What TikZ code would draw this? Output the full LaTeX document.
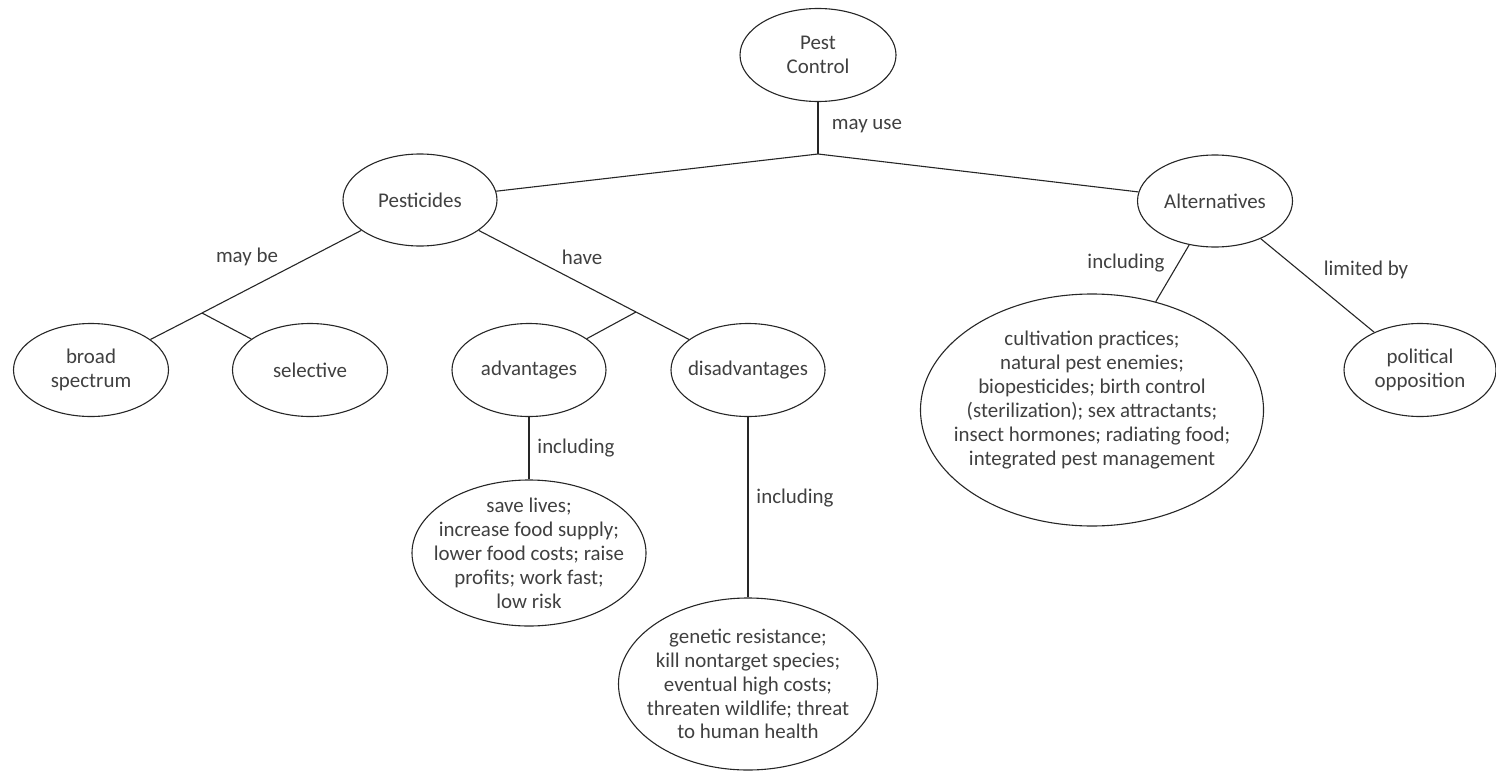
\documentclass[tikz,border=0pt]{standalone}
\usepackage{fontspec}
\setmainfont{Carlito}
\usetikzlibrary{shapes.geometric}
\begin{document}
\begin{tikzpicture}[x=1bp,y=-1bp,
  every node/.style={text=black!75, font=\fontsize{21}{24}\selectfont},
  oval/.style={draw=black!85, line width=1.1bp, ellipse, inner sep=-60bp, align=center},
  conn/.style={draw=black!85, line width=1.1bp},
  lbl/.style={inner sep=0pt}]
\useasboundingbox (0,0) rectangle (1496,771);
% concept ovals
\node[oval, minimum width=156bp, minimum height=93bp] (pc) at (818,55) {Pest\\Control};
\node[oval, minimum width=154bp, minimum height=92bp] (pest) at (420,200) {Pesticides};
\node[oval, minimum width=155bp, minimum height=92bp] (alt) at (1215,201) {Alternatives};
\node[oval, minimum width=155bp, minimum height=93bp] (broad) at (91,370) {broad\\spectrum};
\node[oval, minimum width=155bp, minimum height=93bp] (sel) at (310,370) {selective};
\node[oval, minimum width=154bp, minimum height=93bp] (adv) at (529,370) {advantages};
\node[oval, minimum width=154bp, minimum height=93bp] (dis) at (748,370) {disadvantages};
\node[oval, minimum width=152bp, minimum height=93bp] (pol) at (1420,370) {political\\opposition};
\node[oval, minimum width=234bp, minimum height=146bp] (advl) at (529,553) {save lives;\\increase food supply;\\lower food costs; raise\\profits; work fast;\\low risk};
\node[oval, minimum width=259bp, minimum height=172bp] (disl) at (748,684) {genetic resistance;\\kill nontarget species;\\eventual high costs;\\threaten wildlife; threat\\to human health};
\node[oval, minimum width=343bp, minimum height=232bp] (altl) at (1092,410) {cultivation practices;\\natural pest enemies;\\biopesticides; birth control\\(sterilization); sex attractants;\\insect hormones; radiating food;\\integrated pest management\\\mbox{}};
% junctions
\coordinate (j1) at (818,154);
\coordinate (j2) at (202,313);
\coordinate (j3) at (636,312);
% connectors
\draw[conn] (pc) -- (j1);
\draw[conn] (pest) -- (j1) -- (alt);
\draw[conn] (pest) -- (j2) -- (broad);
\draw[conn] (j2) -- (sel);
\draw[conn] (pest) -- (j3) -- (dis);
\draw[conn] (j3) -- (adv);
\draw[conn] (adv) -- (advl);
\draw[conn] (dis) -- (disl);
\draw[conn] (alt) -- (altl);
\draw[conn] (alt) -- (pol);
% link labels
\node[lbl] (lmu) at (867,126) {may use};
\node[lbl] (lmb) at (247,257) {may be};
\node[lbl] (lhv) at (582,257) {have};
\node[lbl] (li1) at (576,448) {including};
\node[lbl] (li2) at (795,498) {including};
\node[lbl] (li3) at (1126,263) {including};
\node[lbl] (llb) at (1366,270) {limited by};
\end{tikzpicture}
\end{document}
